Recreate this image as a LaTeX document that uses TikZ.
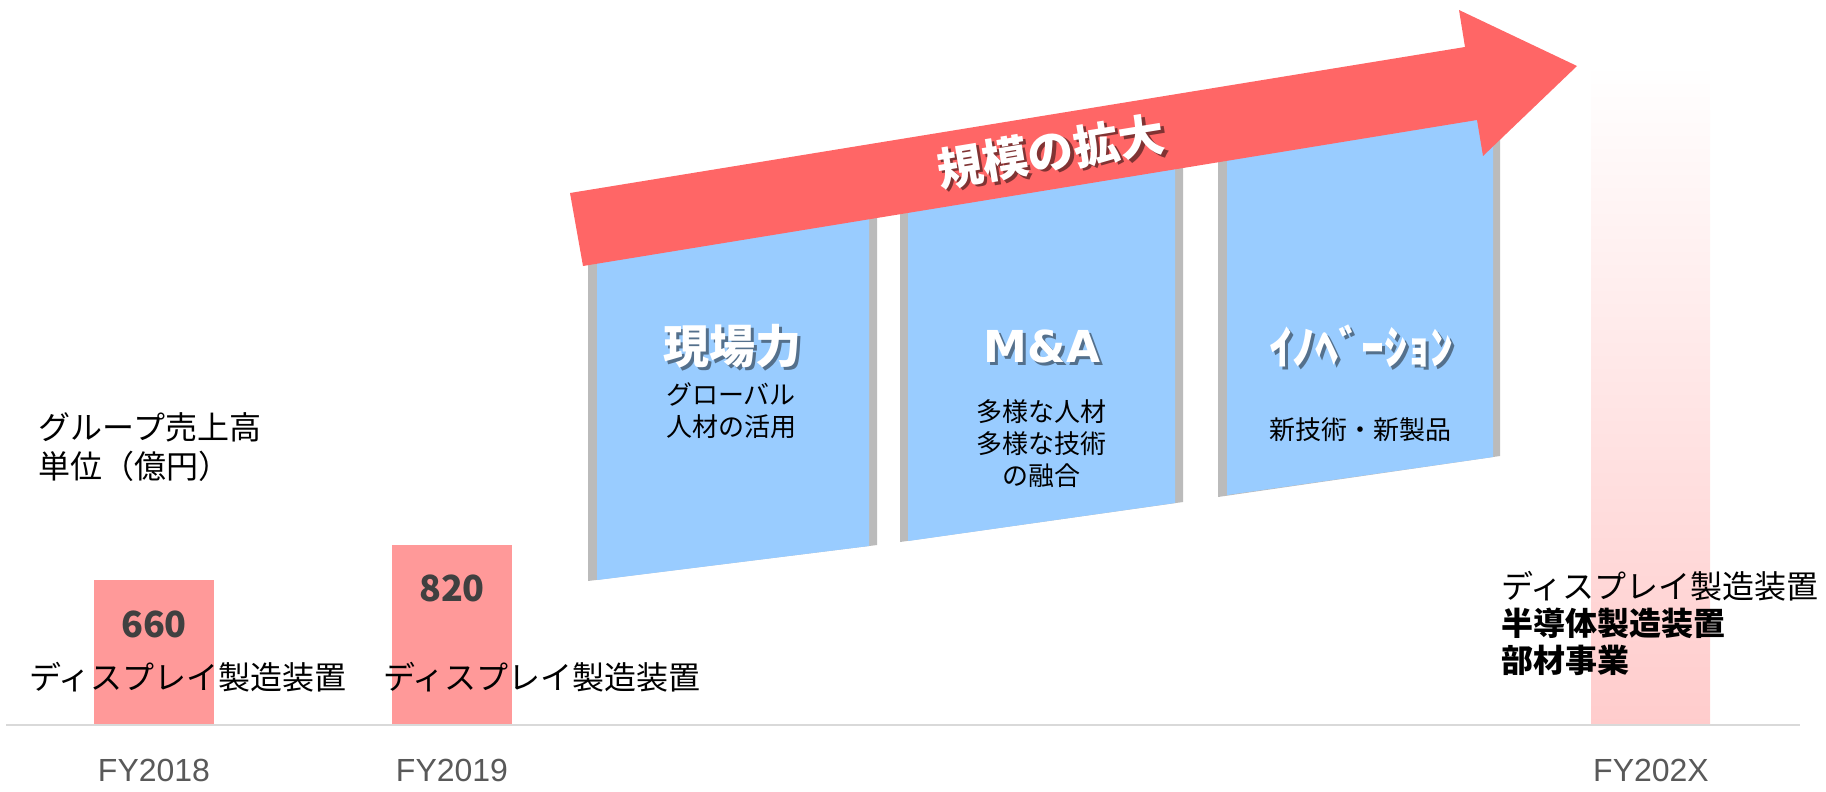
\documentclass[tikz,border=0pt]{standalone}
\usepackage{fontspec}
\setmainfont{Liberation Sans}
\newfontfamily\jp{Noto Sans CJK JP}
\newfontfamily\djv{DejaVu Sans}
\definecolor{arrowred}{HTML}{FF6666}
\definecolor{barpink}{HTML}{FF9999}
\definecolor{fadepink}{HTML}{FFCCCC}
\definecolor{panelblue}{HTML}{99CCFF}
\definecolor{rimgray}{HTML}{BBBBBB}
\definecolor{axisgray}{HTML}{D9D9D9}
\definecolor{labelgray}{HTML}{595959}
\definecolor{numgray}{HTML}{404040}
\colorlet{blueshadow}{panelblue!55!black}
\colorlet{redshadow}{arrowred!50!black}
% text with a drop shadow inside one box
\newcommand{\shadowed}[2]{\rlap{\hspace{1.5pt}\raisebox{-1.5pt}{\textcolor{#1}{#2}}}#2}
\tikzset{
  jplabel/.style={font=\jp\fontsize{16pt}{18.5pt}\selectfont, text=black},
  subtxt/.style={font=\jp\fontsize{13pt}{16pt}\selectfont, align=center, text=black},
  fylabel/.style={font=\fontsize{16pt}{19pt}\selectfont, text=labelgray},
  numlbl/.style={font=\jp\bfseries\fontsize{18pt}{20pt}\selectfont, text=numgray},
  ttl/.style={font=\jp\bfseries\fontsize{23pt}{26pt}\selectfont, text=white},
  ttlM/.style={font=\djv\bfseries\fontsize{22pt}{26pt}\selectfont, text=white},
  rim/.style={fill=rimgray},
  panel/.style={fill=panelblue},
  bar/.style={fill=barpink},
}
\begin{document}
\begin{tikzpicture}[x=0.5pt,y=-0.5pt, every node/.style={inner sep=0pt, outer sep=0pt}]
\useasboundingbox (0,0) rectangle (1826,792);
% future bar (gradient)
\shade[top color=white, middle color=fadepink!70!white, bottom color=fadepink] (1591,64) rectangle (1710,725);
% bars
\fill[bar] (94,580) rectangle (214,725);
\fill[bar] (392,545) rectangle (512,725);
% axis
\draw[axisgray, line width=1pt] (6,725) -- (1800,725);
% panels
\fill[rim] (588,261) -- (877,214) -- (877,545) -- (588,581) -- cycle;
\fill[panel] (597,259) -- (869,215) -- (869,546) -- (597,580) -- cycle;
\fill[rim] (900,210) -- (1183,164) -- (1183,502) -- (900,542) -- cycle;
\fill[panel] (908,209) -- (1175,165) -- (1175,503) -- (908,541) -- cycle;
\fill[rim] (1218,158) -- (1500,112) -- (1500,456) -- (1218,497) -- cycle;
\fill[panel] (1227,157) -- (1493,113) -- (1493,457) -- (1227,495) -- cycle;
% big arrow
\fill[arrowred] (570,193) -- (1465,47) -- (1459,10) -- (1577,66) -- (1483,156) -- (1477,120) -- (583,266) -- cycle;
\node[ttl, rotate=9.3] (arrtxt) at (1051,153) {\shadowed{redshadow}{規模の拡大}};
% panel titles
\node[ttl] (t1) at (732,348) {\shadowed{blueshadow}{現場力}};
\node[ttlM] (t2) at (1042,348) {\shadowed{blueshadow}{M\&A}};
\node[ttl] (t3) at (1361,348) {\shadowed{blueshadow}{ｲﾉﾍﾞｰｼｮﾝ}};
% panel subtexts
\node[subtxt] (s1) at (731,411) {グローバル\\人材の活用};
\node[subtxt] (s2) at (1041,444) {多様な人材\\多様な技術\\の融合};
\node[subtxt] (s3) at (1360,430) {新技術・新製品};
% chart texts
\node[jplabel, anchor=west, align=left, font=\jp\fontsize{16pt}{19.5pt}\selectfont] (unit) at (39,447) {グループ売上高\\単位（億円）};
\node[numlbl] (n660) at (154,624) {660};
\node[numlbl] (n820) at (452,588) {820};
\node[jplabel] (d18) at (188,677) {ディスプレイ製造装置};
\node[jplabel] (d19) at (542,677) {ディスプレイ製造装置};
\node[jplabel, anchor=west, align=left] (fut) at (1501,623) {ディスプレイ製造装置\\\textbf{半導体製造装置}\\\textbf{部材事業}};
% axis labels
\node[fylabel] (fy18) at (154,770) {FY2018};
\node[fylabel] (fy19) at (452,770) {FY2019};
\node[fylabel] (fy20) at (1651,770) {FY202X};
\end{tikzpicture}
\end{document}
